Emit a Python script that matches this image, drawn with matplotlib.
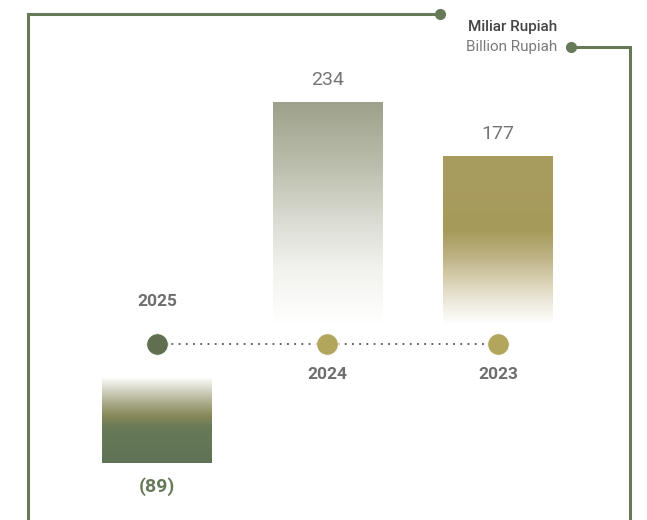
import matplotlib
matplotlib.use('Agg')
import matplotlib.pyplot as plt
import numpy as np
from matplotlib.colors import LinearSegmentedColormap
from matplotlib.lines import Line2D

plt.rcParams['font.family'] = ['Roboto', 'DejaVu Sans']

years = ["2025", "2024", "2023"]
values = [-89, 234, 177]
value_labels = ["(89)", "234", "177"]
unit_id = "Miliar Rupiah"
unit_en = "Billion Rupiah"

GREEN = "#677a58"
GOLD = "#b2a55c"
DOT_COLORS = ["#5f6f4f", GOLD, GOLD]

# gradients run from the top of each bar to its bottom
gradients = [
    [(0.0, "#fbfbf8"), (0.12, "#d9d9cb"), (0.3, "#a9a988"), (0.45, "#878858"),
     (0.58, "#687a57"), (1.0, "#5f7455")],
    [(0.0, "#9da08a"), (0.3, "#bdbfae"), (0.55, "#dcddd4"), (0.75, "#f2f2ee"),
     (1.0, "#ffffff")],
    [(0.0, "#a99c5f"), (0.45, "#a69a5b"), (0.6, "#beb283"), (0.8, "#e2dcc6"),
     (1.0, "#ffffff")],
]

W, H, DPI = 647, 520, 100
fig = plt.figure(figsize=(W / DPI, H / DPI), dpi=DPI)
ax = fig.add_axes([0, 0, 1, 1])
ax.set_axis_off()

# x: one unit per year, y: one unit per billion rupiah, timeline at y = 0
px_x, px_y = 170.5, 0.95
xlim = (-157 / px_x, (W - 157) / px_x)
ylim = (-(H - 344) / px_y, 344 / px_y)

gap_up, gap_down = 21, 36
x = np.arange(len(years))
bottoms = [gap_up if v > 0 else -gap_down for v in values]
bars = ax.bar(x, values, width=0.645, bottom=bottoms, color="none", linewidth=0)

for bar, stops in zip(bars, gradients):
    cmap = LinearSegmentedColormap.from_list("g", stops)
    x0, y0 = bar.get_x(), bar.get_y()
    x1, y1 = x0 + bar.get_width(), y0 + bar.get_height()
    top, bot = max(y0, y1), min(y0, y1)
    grad = np.linspace(0, 1, 256).reshape(-1, 1)
    im = ax.imshow(grad, cmap=cmap, aspect='auto', extent=(x0, x1, bot, top),
                   origin='upper', interpolation='bicubic', zorder=1)
    im.set_clip_path(bar)

ax.set_xlim(*xlim)
ax.set_ylim(*ylim)

# timeline
ax.plot(x, [0] * len(x), linestyle=(0, (1, 3)), color="#555555", lw=1.3, zorder=2)
for xi, c in zip(x, DOT_COLORS):
    ax.plot(xi, 0, 'o', ms=15.5, color=c, markeredgecolor="#ffffff",
            markeredgewidth=0.6, zorder=3)

# year labels
for xi, yr, v in zip(x, years, values):
    ypos = 45 if v < 0 else -32
    ax.text(xi, ypos, yr, ha='center', va='center', fontsize=12.5,
            fontweight='bold', color="#6e6e6e")

# value labels
for bar, lab, v in zip(bars, value_labels, values):
    cx = bar.get_x() + bar.get_width() / 2
    if v < 0:
        ax.text(cx, bar.get_y() + v - 25, lab, ha='center', va='center',
                fontsize=14, fontweight='bold', color=GREEN)
    else:
        ax.text(cx, bar.get_y() + v + 23, lab, ha='center', va='center',
                fontsize=14, color="#757575")

# unit caption
fig.text(557 / W, 1 - 27 / H, unit_id, ha='right', va='center', fontsize=11,
         fontweight='medium', color="#444444")
fig.text(557 / W, 1 - 47 / H, unit_en, ha='right', va='center', fontsize=11,
         color="#7a7a7a")

# frame lines
def fx(p):
    return p / W

def fy(p):
    return 1 - p / H

fig.add_artist(Line2D([fx(28), fx(28), fx(440)], [fy(H + 5), fy(14), fy(14)],
                      color=GREEN, lw=2.2, solid_joinstyle='miter'))
fig.add_artist(Line2D([fx(440)], [fy(14)], marker='o', ms=7, color=GREEN))
fig.add_artist(Line2D([fx(571), fx(630), fx(630)], [fy(47), fy(47), fy(H + 5)],
                      color=GREEN, lw=2.2, solid_joinstyle='miter'))
fig.add_artist(Line2D([fx(571)], [fy(47)], marker='o', ms=7, color=GREEN))

fig.savefig("out.png", dpi=DPI)
